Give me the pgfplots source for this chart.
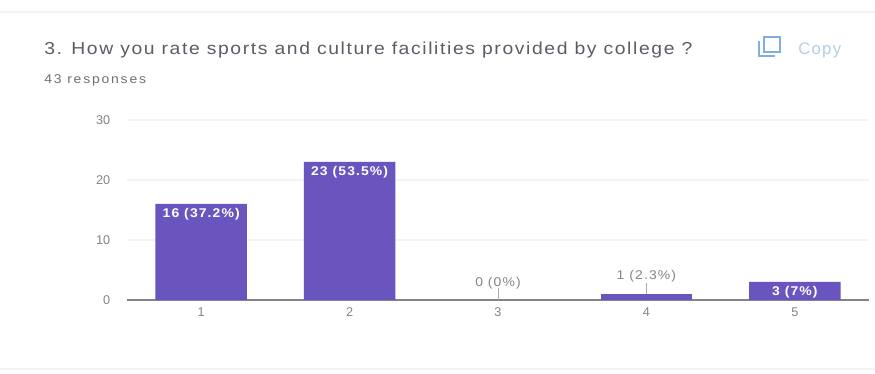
\documentclass[border=0pt]{standalone}
\usepackage{pgfplots}
\pgfplotsset{compat=1.18}
\usepackage{fontspec}
\setmainfont{Liberation Sans}
\definecolor{barc}{HTML}{6A55BE}
\definecolor{titlec}{HTML}{5F5B66}
\definecolor{tickc}{HTML}{85828A}
\definecolor{gridc}{HTML}{F4F4F6}
\definecolor{copyc}{HTML}{7FAEE0}
\newcommand{\lblfont}{\fontsize{9.5}{11}\selectfont\addfontfeatures{LetterSpace=8}}
\begin{document}
\begin{tikzpicture}[x=0.75pt,y=0.75pt]
\path[use as bounding box,fill=white] (0,0) rectangle (875,374);
\draw[gridc,line width=1.5pt] (0,362) -- (875,362);
\draw[gridc,line width=1.5pt] (0,5) -- (875,5);
\node[anchor=base west,inner sep=0pt,text=titlec,xscale=1.115,font=\fontsize{13}{15}\selectfont] at (44,319) {\addfontfeatures{LetterSpace=8.4}3. How you rate sports and culture facilities provided by college ?};
\node[anchor=base west,inner sep=0pt,text=tickc!85!black,xscale=1.1,font=\fontsize{9.5}{11}\selectfont] at (44,290) {\addfontfeatures{LetterSpace=13}43 responses};
\node[anchor=base west,inner sep=0pt,text=copyc!60!white,font=\fontsize{12.5}{14}\selectfont] at (798,319) {\addfontfeatures{LetterSpace=8}Copy};
\draw[copyc,line width=0.8pt] (764,337) rectangle (780,322);
\draw[copyc,line width=0.8pt] (759,333) -- (759,318) -- (775,318);
\begin{axis}[
  at={(95.25pt,55.5pt)},anchor=south west,
  scale only axis,width=556.5pt,height=135pt,
  xmin=-0.5,xmax=4.5,ymin=0,ymax=30,
  xtick={0,1,2,3,4},xticklabels={1,2,3,4,5},
  ytick={0,10,20,30},
  axis y line*=left,axis x line*=bottom,
  y axis line style={draw=none},
  x axis line style={draw=tickc,line width=0.8pt,-},
  major tick style={draw=none},
  ymajorgrids,
  grid style={gridc,line width=0.8pt},
  tick label style={text=tickc,font=\fontsize{9.5}{11}\selectfont},
  /pgf/number format/assume math mode=true,
  xticklabel style={yshift=-2.5pt},
  yticklabel style={xshift=-9pt},
  clip=false,
]
\addplot[ybar,bar width=68.6pt,bar shift=0pt,fill=barc,draw=none,
  point meta=explicit symbolic,
  nodes near coords,
  nodes near coords style={anchor=north,text=white,xscale=1.1,font=\bfseries\lblfont,inner sep=1pt,yshift=-2.2pt}]
 coordinates {(0,16)[16 (37.2\%)] (1,23)[23 (53.5\%)] (4,3)[3 (7\%)]};
\addplot[ybar,bar width=68.6pt,bar shift=0pt,fill=barc,draw=none] coordinates {(3,1)};
\addplot[tickc!70!white,line width=0.5pt] coordinates {(2,0) (2,2)};
\addplot[tickc!70!white,line width=0.5pt] coordinates {(3,1) (3,2.8)};
\addplot[draw=none,mark=none,
  point meta=explicit symbolic,
  nodes near coords,
  nodes near coords style={anchor=south,text=tickc,xscale=1.1,font=\lblfont,inner sep=1pt}]
 coordinates {(2,1.6)[0 (0\%)] (3,2.7)[1 (2.3\%)]};
\end{axis}
\end{tikzpicture}
\end{document}
